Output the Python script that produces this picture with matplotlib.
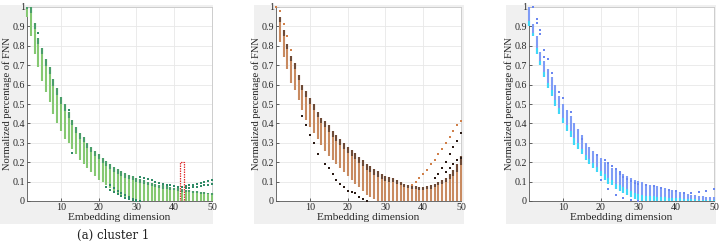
import numpy as np
import matplotlib
matplotlib.use("Agg")
import matplotlib.pyplot as plt
from matplotlib.patches import Rectangle

dims = list(range(1, 51))

# ---- cluster 1 (green) ----
c1_top = [1.0, 1.0, 0.92, 0.84, 0.79, 0.73, 0.69, 0.63, 0.58, 0.535,
          0.50, 0.46, 0.42, 0.38, 0.35, 0.33, 0.30, 0.28, 0.26, 0.24,
          0.22, 0.205, 0.19, 0.175, 0.165, 0.155, 0.145, 0.135, 0.13, 0.12,
          0.115, 0.11, 0.10, 0.095, 0.09, 0.085, 0.08, 0.075, 0.07, 0.068,
          0.065, 0.06, 0.058, 0.055, 0.052, 0.05, 0.048, 0.045, 0.043, 0.04]
c1_bot = [0.95, 0.85, 0.76, 0.69, 0.62, 0.56, 0.51, 0.45, 0.40, 0.36,
          0.32, 0.30, 0.27, 0.24, 0.21, 0.19, 0.17, 0.15, 0.13, 0.11,
          0.10, 0.08, 0.065, 0.05, 0.04, 0.03, 0.02, 0.015, 0.01, 0.005,
          0, 0, 0, 0, 0, 0, 0, 0, 0, 0, 0, 0, 0, 0, 0, 0, 0, 0, 0, 0]
c1_out_x = [4, 12, 13, 22, 23, 24, 25, 26, 27, 28, 29, 30,
            23, 24, 25, 26, 27, 28, 29, 30, 31,
            31, 32, 33, 34, 35, 36, 37, 38, 39, 40, 41, 42,
            43, 44, 45, 46, 47, 48, 49, 50,
            43, 44, 45, 46, 47, 48, 49, 50]
c1_out_y = [0.866, 0.47, 0.25, 0.07, 0.055, 0.045, 0.035, 0.025, 0.015, 0.008, 0.003, 0.0,
            0.08, 0.065, 0.05, 0.04, 0.03, 0.02, 0.012, 0.005, 0.0,
            0.125, 0.12, 0.115, 0.11, 0.10, 0.095, 0.09, 0.085, 0.08, 0.075, 0.072, 0.07,
            0.075, 0.08, 0.085, 0.09, 0.095, 0.10, 0.105, 0.11,
            0.065, 0.068, 0.07, 0.073, 0.077, 0.08, 0.085, 0.09]

# ---- cluster 2 (brown) ----
c2_top = [1.0, 0.95, 0.88, 0.81, 0.75, 0.71, 0.65, 0.60, 0.565, 0.53,
          0.50, 0.46, 0.43, 0.41, 0.39, 0.36, 0.34, 0.32, 0.30, 0.28,
          0.265, 0.245, 0.225, 0.21, 0.19, 0.18, 0.165, 0.155, 0.14, 0.13,
          0.125, 0.12, 0.11, 0.10, 0.09, 0.085, 0.08, 0.075, 0.07, 0.07,
          0.075, 0.08, 0.09, 0.10, 0.11, 0.12, 0.14, 0.16, 0.19, 0.23]
c2_bot = [1.0, 0.82, 0.74, 0.68, 0.61, 0.57, 0.52, 0.47, 0.42, 0.38,
          0.35, 0.32, 0.29, 0.26, 0.23, 0.21, 0.19, 0.17, 0.15, 0.13,
          0.11, 0.09, 0.07, 0.05, 0.03, 0.02, 0.01, 0, 0, 0,
          0, 0, 0, 0, 0, 0, 0, 0, 0, 0, 0, 0, 0, 0, 0, 0, 0, 0, 0, 0]
c2_up_x = [1, 2, 3, 4, 5, 37, 38, 39, 40, 41, 42, 43, 44, 45, 46, 47, 48, 49, 50]
c2_up_y = [1.0, 0.98, 0.91, 0.85, 0.78, 0.085, 0.10, 0.12, 0.14, 0.16, 0.19, 0.21,
           0.24, 0.27, 0.30, 0.33, 0.36, 0.39, 0.41]
c2_dk_x = [8, 9, 10, 11, 12, 14, 15, 16, 17, 18, 19, 20, 21, 22, 23, 24, 25,
           43, 44, 45, 46, 47, 48, 49, 50, 46, 47, 48, 49, 50]
c2_dk_y = [0.44, 0.39, 0.34, 0.30, 0.24, 0.19, 0.17, 0.14, 0.11, 0.09, 0.07, 0.05,
           0.045, 0.04, 0.02, 0.01, 0.0,
           0.12, 0.14, 0.17, 0.20, 0.24, 0.28, 0.31, 0.35, 0.15, 0.17, 0.19, 0.21, 0.22]

# ---- cluster 3 (blue) ----
c3_top = [1.0, 0.91, 0.85, 0.77, 0.72, 0.68, 0.64, 0.60, 0.54, 0.50,
          0.47, 0.44, 0.40, 0.37, 0.34, 0.30, 0.28, 0.26, 0.24, 0.22,
          0.20, 0.19, 0.17, 0.16, 0.15, 0.14, 0.13, 0.12, 0.11, 0.105,
          0.10, 0.09, 0.085, 0.08, 0.075, 0.07, 0.065, 0.06, 0.055, 0.05,
          0.045, 0.04, 0.035, 0.03, 0.03, 0.025, 0.025, 0.02, 0.02, 0.02]
c3_bot = [0.90, 0.85, 0.76, 0.70, 0.64, 0.58, 0.54, 0.49, 0.45, 0.40,
          0.36, 0.33, 0.29, 0.27, 0.24, 0.21, 0.19, 0.17, 0.15, 0.13,
          0.11, 0.09, 0.08, 0.06, 0.05, 0.04, 0.03, 0.02, 0.01, 0.005,
          0, 0, 0, 0, 0, 0, 0, 0, 0, 0, 0, 0, 0, 0, 0, 0, 0, 0, 0, 0]
c3_out_x = [2, 3, 3, 4, 4, 5, 5, 6, 7, 9, 10, 12, 15, 19, 21, 22, 23, 24, 25,
            25, 26, 27, 28, 29, 30, 32, 34, 36, 38, 40, 42, 44, 46, 48, 50,
            20, 22, 24, 26, 28, 30]
c3_out_y = [1.0, 0.94, 0.92, 0.88, 0.86, 0.78, 0.74, 0.73, 0.66, 0.56, 0.53, 0.46,
            0.32, 0.235, 0.21, 0.195, 0.18, 0.165, 0.15,
            0.14, 0.125, 0.115, 0.105, 0.095, 0.09, 0.085, 0.075, 0.065, 0.055, 0.05,
            0.04, 0.04, 0.045, 0.05, 0.06,
            0.11, 0.06, 0.03, 0.015, 0.005, 0.0]

W, H = 723, 246
fig = plt.figure(figsize=(W / 100, H / 100), dpi=100)
fig.patch.set_facecolor("white")

serif = ["Liberation Serif", "DejaVu Serif"]

# grey panel backgrounds (px: x0, x1; y from top 5 to 224)
for x0, x1 in [(0, 213), (254, 464), (506, 716)]:
    fig.add_artist(Rectangle((x0 / W, 1 - 224 / H), (x1 - x0) / W, 219 / H,
                             transform=fig.transFigure, facecolor="#f0f0f0",
                             edgecolor="none", zorder=-10))

lefts = [27, 276, 529]
axes = []
for l in lefts:
    ax = fig.add_axes([l / W, 1 - 201 / H, 185 / W, 194 / H])
    ax.set_zorder(1)
    ax.set_facecolor("white")
    ax.set_xlim(1, 50)
    ax.set_ylim(0, 1)
    ax.set_xticks([10, 20, 30, 40, 50])
    ax.set_yticks(np.arange(0, 1.01, 0.1))
    ax.set_yticklabels(["0", "0.1", "0.2", "0.3", "0.4", "0.5", "0.6", "0.7", "0.8", "0.9", "1"])
    ax.grid(True, color="#e8e8e8", linewidth=0.6)
    ax.set_axisbelow(True)
    ax.tick_params(direction="in", length=2, width=0.5, labelsize=7.2, pad=1.5,
                   colors="#262626", top=False, right=False)
    for lab in ax.get_xticklabels() + ax.get_yticklabels():
        lab.set_fontfamily(serif)
    for s in ["left", "bottom"]:
        ax.spines[s].set_color("#555555")
        ax.spines[s].set_linewidth(0.6)
    for s in ["top", "right"]:
        ax.spines[s].set_color("#c8c8c8")
        ax.spines[s].set_linewidth(0.6)
    ax.set_xlabel("Embedding dimension", fontsize=8.2, family=serif, labelpad=1, color="#262626")
    ax.set_ylabel("Normalized percentage of FNN", fontsize=7.6, family=serif, color="#262626")
    ax.yaxis.set_label_coords(-0.082, 0.5)
    axes.append(ax)

d = np.array(dims)

# panel 1
ax = axes[0]
t, b = np.array(c1_top), np.array(c1_bot)
ax.vlines(d, b, t, color="#85c872", linewidth=1.5, zorder=3, clip_on=False)
ax.vlines(d, t - 0.2 * (t - b), t, color="#4a9e6a", linewidth=1.5, zorder=4, clip_on=False)
ax.scatter(c1_out_x, c1_out_y, marker="s", s=2.5, color="#2f8a66", zorder=5, clip_on=False, linewidths=0)
ax.add_patch(Rectangle((41.6, 0.0), 1.0, 0.2, fill=False, edgecolor="#e03030",
                       linestyle=(0, (1.2, 0.8)), linewidth=0.9, zorder=6))

# panel 2
ax = axes[1]
t, b = np.array(c2_top), np.array(c2_bot)
ax.vlines(d, b, t, color="#c88a60", linewidth=1.5, zorder=3, clip_on=False)
ax.vlines(d, t - 0.2 * (t - b), t, color="#6e4a36", linewidth=1.5, zorder=4, clip_on=False)
ax.scatter(c2_dk_x, c2_dk_y, marker="s", s=2.5, color="#2a1a14", zorder=5, clip_on=False, linewidths=0)
ax.scatter(c2_up_x, c2_up_y, marker="s", s=2.5, color="#d0804a", zorder=5, clip_on=False, linewidths=0)

# panel 3
ax = axes[2]
t, b = np.array(c3_top), np.array(c3_bot)
ax.vlines(d, b, t, color="#7f9cf6", linewidth=1.5, zorder=3, clip_on=False)
ax.vlines(d, b, b + 0.3 * (t - b), color="#3fd8f8", linewidth=1.5, zorder=4, clip_on=False)
ax.scatter(c3_out_x, c3_out_y, marker="s", s=2.5, color="#6a86f0", zorder=5, clip_on=False, linewidths=0)

fig.text(113 / W, 1 - 235 / H, "(a) cluster 1", ha="center", va="center",
         fontsize=8.5, family=["DejaVu Serif"], color="#222222")

fig.savefig("out.png", dpi=100, facecolor="white")
